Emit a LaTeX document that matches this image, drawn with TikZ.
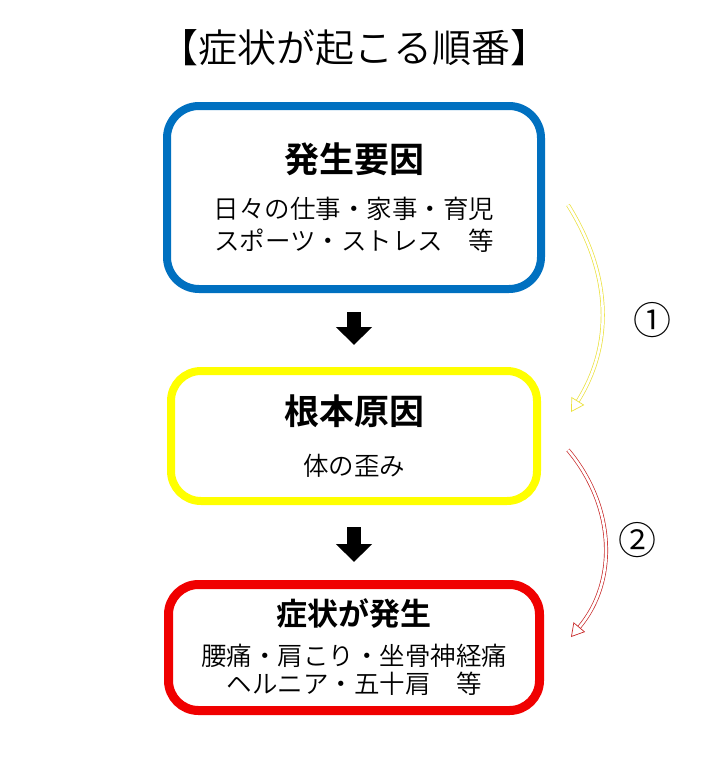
\documentclass[tikz,border=0pt]{standalone}
\usepackage{fontspec}
\setmainfont{Noto Sans CJK JP}[UprightFont=* DemiLight, BoldFont=* Bold]
\usepackage{xcolor}
\usetikzlibrary{positioning,arrows.meta}
\definecolor{causeblue}{RGB}{0,112,192}
\definecolor{rootyellow}{RGB}{255,255,0}
\definecolor{symptomred}{RGB}{240,0,0}
\definecolor{loopyellow}{RGB}{235,225,60}
\definecolor{loopred}{RGB}{200,40,40}
\newcommand{\headfont}{\fontsize{35}{42}\selectfont\bfseries}
\newcommand{\bodyfont}{\fontsize{25.5}{32}\selectfont}
\tikzset{cause/.style={
    draw=causeblue,
    line width=8pt,
    minimum width=374pt,
    minimum height=183pt,
    rounded corners=32pt,
    align=center,
    font=\bodyfont,
}}
\tikzset{root/.style={
    draw=rootyellow,
    line width=8pt,
    minimum width=366pt,
    minimum height=130pt,
    rounded corners=30pt,
    align=center,
    font=\bodyfont,
}}
\tikzset{symptom/.style={
    draw=symptomred,
    line width=9pt,
    minimum width=371pt,
    minimum height=126pt,
    rounded corners=30pt,
    align=center,
    font=\bodyfont,
}}
\tikzset{arrow/.style={
    line width=14pt,
    -{Triangle[length=18pt,width=35pt]},
}}
\tikzset{loop/.style={
    double=white,
    double distance=2.6pt,
    line width=0.7pt,
    -{Triangle[open,length=13pt,width=15pt]},
}}

\begin{document}
\begin{tikzpicture}[x=1pt,y=-1pt]
    \useasboundingbox (0,0) rectangle (720,763);
    \node[font=\fontsize{39}{44}\selectfont] (title) at (354,48) {【症状が起こる順番】};

    \node[cause] (cause) at (354,197.5) {{\headfont 発生要因}\\[14pt]
        日々の仕事・家事・育児\\スポーツ・ストレス　等};
    \node[root, below=74pt of cause] (root) {{\headfont 根本原因}\\[19pt]
        体の歪み};
    \node[symptom, below=75pt of root] (symptom) {{\fontsize{31}{36}\selectfont\bfseries 症状が発生}\\[8pt]
        腰痛・肩こり・坐骨神経痛\\[-4pt]ヘルニア・五十肩　等};

    \draw[arrow, shorten <=19pt, shorten >=22pt] (cause) -- (root);
    \draw[arrow, shorten <=22pt, shorten >=18pt] (root) -- (symptom);

    % loops on the right
    \coordinate (one start) at (568,205);
    \coordinate (one end) at (571,412);
    \coordinate (two start) at (568,450);
    \coordinate (two end) at (571,637);
    \draw[loop, loopyellow] (one start) to[out=-58,in=58] (one end);
    \draw[loop, loopred] (two start) to[out=-50,in=50] (two end);

    \node[font=\fontsize{38}{42}\selectfont] (one) at (652,320) {①};
    \node[font=\fontsize{38}{42}\selectfont] (two) at (637,540) {②};
\end{tikzpicture}
\end{document}
